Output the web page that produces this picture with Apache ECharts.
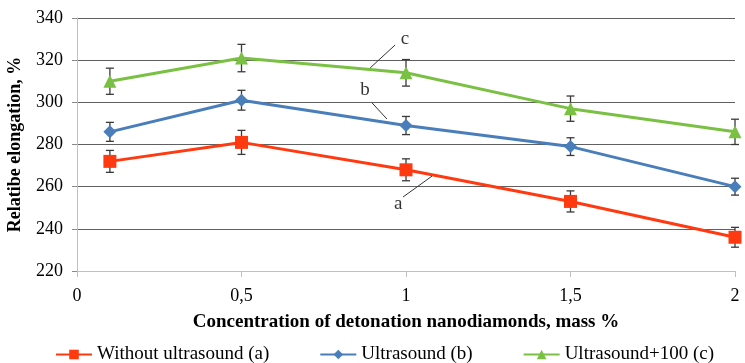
<!DOCTYPE html>
<html>
<head>
<meta charset="utf-8">
<script src="https://cdn.jsdelivr.net/npm/echarts@6/dist/echarts.min.js"></script>
<style>
  html, body { margin: 0; padding: 0; background: #fff; }
  #chart { width: 745px; height: 363px; }
</style>
</head>
<body>
<div id="chart"></div>
<script>
const concentration = [0.1, 0.5, 1, 1.5, 2];

const withoutUltrasound = [272, 281, 268, 253, 236];
const withoutUltrasoundErr = [5.2, 5.7, 5.2, 5, 4.7];

const ultrasound = [286, 301, 289, 279, 260];
const ultrasoundErr = [4.5, 4.7, 4.3, 4.2, 4];

const ultrasound100 = [310, 321, 314, 297, 286];
const ultrasound100Err = [6.2, 6.5, 6.3, 6, 6];

const seriesNames = ['Without ultrasound (a)', 'Ultrasound (b)', 'Ultrasound+100 (c)'];

// curve letters and their leader lines, in data units
const curveLetters = [[0.976, 252, 'a'], [0.875, 306, 'b'], [0.997, 330, 'c']];
const leaderLines = [
  [[0.991, 255.1], [1.079, 265.0]],
  [[0.897, 299.7], [0.942, 292.1]],
  [[0.967, 327.2], [0.891, 316.3]]
];

const font = 'Liberation Serif';

const pairs = (ys) => concentration.map((x, i) => [x, ys[i]]);
const errRows = (ys, es) => concentration.map((x, i) => [x, ys[i] - es[i], ys[i] + es[i]]);

function errorBar(params, api) {
  const low = api.coord([api.value(0), api.value(1)]);
  const high = api.coord([api.value(0), api.value(2)]);
  const cap = 4;
  const style = { stroke: '#3a3a3a', lineWidth: 1.3 };
  return {
    type: 'group',
    children: [
      { type: 'line', shape: { x1: low[0], y1: low[1], x2: high[0], y2: high[1] }, style },
      { type: 'line', shape: { x1: low[0] - cap, y1: low[1], x2: low[0] + cap, y2: low[1] }, style },
      { type: 'line', shape: { x1: high[0] - cap, y1: high[1], x2: high[0] + cap, y2: high[1] }, style }
    ]
  };
}

const chart = echarts.init(document.getElementById('chart'));

const lineSeries = (name, ys, color, symbol, size) => ({
  name,
  type: 'line',
  data: pairs(ys),
  color,
  symbol,
  symbolSize: size,
  showSymbol: true,
  clip: false,
  z: 3,
  lineStyle: { width: 3, color },
  itemStyle: { color },
  emphasis: { disabled: true }
});

const errSeries = (ys, es) => ({
  type: 'custom',
  data: errRows(ys, es),
  renderItem: errorBar,
  clip: false,
  z: 2,
  silent: true
});

chart.setOption({
  animation: false,
  textStyle: { fontFamily: font },
  grid: { left: 77, right: 10, top: 18, bottom: 92, outerBoundsMode: 'none' },
  legend: {
    data: seriesNames,
    top: 340,
    left: 50,
    itemGap: 50,
    itemWidth: 36,
    itemHeight: 12,
    textStyle: { fontFamily: font, fontSize: 19, color: '#000' }
  },
  xAxis: {
    type: 'value',
    min: 0,
    max: 2,
    interval: 0.5,
    name: 'Concentration of detonation nanodiamonds, mass %',
    nameLocation: 'middle',
    nameGap: 42,
    nameTextStyle: { fontFamily: font, fontSize: 19, fontWeight: 'bold', color: '#000' },
    axisLine: { lineStyle: { color: '#c0c0c0', width: 1 } },
    axisTick: { show: true, length: 6, lineStyle: { color: '#c0c0c0' } },
    axisLabel: {
      fontFamily: font,
      fontSize: 18,
      color: '#000',
      margin: 16,
      formatter: (v) => String(v).replace('.', ',')
    },
    splitLine: { show: false }
  },
  yAxis: {
    type: 'value',
    min: 220,
    max: 340,
    interval: 20,
    name: 'Relatibe elongation, %',
    nameLocation: 'middle',
    nameGap: 53,
    nameTextStyle: { fontFamily: font, fontSize: 18, fontWeight: 'bold', color: '#000' },
    axisLine: { show: true, lineStyle: { color: '#c0c0c0', width: 1 } },
    axisTick: { show: true, length: 5, lineStyle: { color: '#8a8a8a' } },
    axisLabel: { fontFamily: font, fontSize: 18, color: '#000', margin: 14 },
    splitLine: { lineStyle: { color: '#606060', width: 1.2 } }
  },
  series: [
    errSeries(withoutUltrasound, withoutUltrasoundErr),
    errSeries(ultrasound, ultrasoundErr),
    errSeries(ultrasound100, ultrasound100Err),
    lineSeries(seriesNames[0], withoutUltrasound, '#ff3a10', 'rect', 13),
    lineSeries(seriesNames[1], ultrasound, '#4a7ebb', 'diamond', 13),
    lineSeries(seriesNames[2], ultrasound100, '#7ac143', 'triangle', 13),
    {
      type: 'lines',
      coordinateSystem: 'cartesian2d',
      silent: true,
      z: 4,
      lineStyle: { color: '#333', width: 1, opacity: 1 },
      data: leaderLines.map((c) => ({ coords: c }))
    },
    {
      type: 'scatter',
      silent: true,
      symbolSize: 0,
      z: 5,
      data: curveLetters,
      label: {
        show: true,
        position: 'inside',
        fontFamily: font,
        fontSize: 19,
        color: '#000',
        formatter: (p) => p.value[2]
      }
    }
  ]
});
</script>
</body>
</html>
